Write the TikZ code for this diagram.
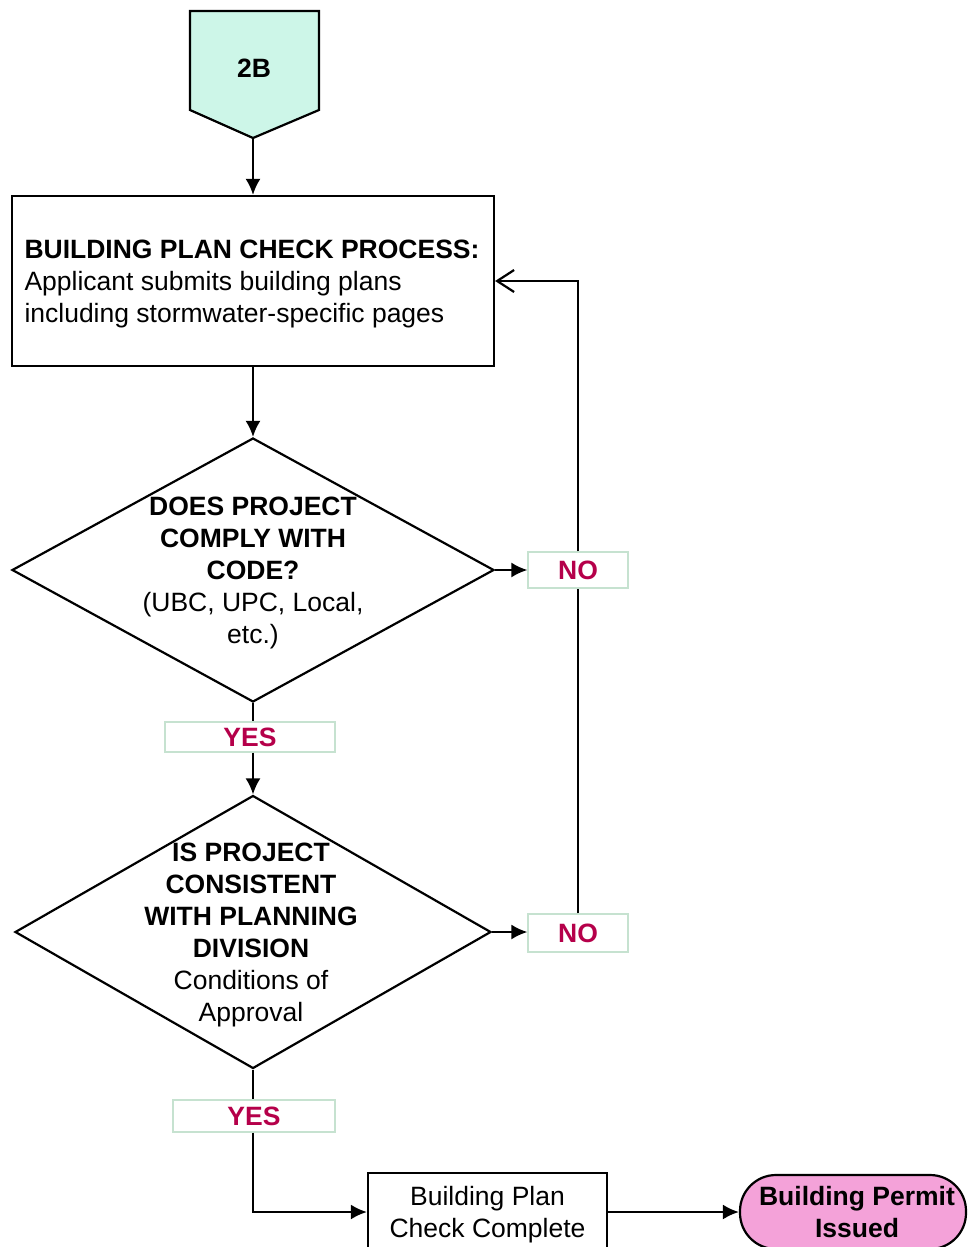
\documentclass[tikz,border=0pt]{standalone}
\usepackage{fontspec}
\setmainfont{Liberation Sans}
\usetikzlibrary{arrows.meta,shapes.geometric}
\definecolor{tealfill}{HTML}{CDF6E8}
\definecolor{pinkfill}{HTML}{F4A2D9}
\definecolor{answer}{HTML}{B5004A}
\definecolor{tagline}{HTML}{C6E2D0}
\begin{document}
\begin{tikzpicture}[x=1pt,y=-1pt,
  every node/.style={font=\fontsize{26.5}{32}\selectfont, text=black},
  line/.style={line width=2.2pt, draw=black},
  arr/.style={line, -{Latex[length=16pt,width=15pt]}},
  openarr/.style={line, -{Straight Barb[length=17pt,width=22pt]}},
  box/.style={draw, line width=2.2pt, rectangle, inner sep=0pt},
  dia/.style={draw, line width=2.2pt, diamond, inner sep=0pt},
  txt/.style={inner sep=0pt, yshift=-3pt},
  tag/.style={draw=tagline, line width=1.2pt, fill=white, inner sep=0pt,
              text=answer, font=\fontsize{26.5}{32}\selectfont\bfseries},
]
\useasboundingbox (0,0) rectangle (969,1247);
\fill[white] (0,0) rectangle (969,1247);

% off-page connector
\filldraw[fill=tealfill, line width=2.2pt]
  (190,11) -- (319,11) -- (319,110) -- (253,138) -- (190,110) -- cycle;
\coordinate (ptip) at (253,138);
\node[font=\fontsize{26.5}{32}\selectfont\bfseries] (entry) at (254,68) {2B};

% process box
\node[box, minimum width=482pt, minimum height=170pt] (plan) at (253,281) {};
\node[txt, align=left] (plantxt) at (252,281)
  {\textbf{BUILDING PLAN CHECK PROCESS:}\\Applicant submits building plans\\including stormwater-specific pages};

% first decision
\node[dia, minimum width=482pt, minimum height=264pt] (code) at (253,570) {};
\node[txt, align=center] (codetxt) at (253,570)
  {\textbf{DOES PROJECT}\\\textbf{COMPLY WITH}\\\textbf{CODE?}\\(UBC, UPC, Local,\\etc.)};

% second decision
\node[dia, minimum width=476pt, minimum height=273pt] (approve) at (253,932) {};
\node[txt, align=center] (approvetxt) at (251,932)
  {\textbf{IS PROJECT}\\\textbf{CONSISTENT}\\\textbf{WITH PLANNING}\\\textbf{DIVISION}\\Conditions of\\Approval};

% answer tags
\node[tag, minimum width=100pt, minimum height=36pt] (no1) at (578,570) {NO};
\node[tag, minimum width=100pt, minimum height=38pt] (no2) at (578,933) {NO};
\node[tag, minimum width=170pt, minimum height=30pt] (yes1) at (250,737) {YES};
\node[tag, minimum width=162pt, minimum height=32pt] (yes2) at (254,1116) {YES};

% completion and permit
\node[box, minimum width=239pt, minimum height=78pt] (done) at (487.5,1212) {};
\node[txt, align=center] (donetxt) at (487.5,1212) {Building Plan\\Check Complete};
\node[draw, line width=2.2pt, fill=pinkfill, rounded corners=36pt, inner sep=0pt,
      minimum width=226pt, minimum height=74pt] (permit) at (853,1212) {};
\node[inner sep=0pt, align=center, font=\fontsize{26.5}{32}\selectfont\bfseries] (permittxt)
  at (857,1212) {Building Permit\\Issued};

% connectors
\draw[arr] (ptip) -- (ptip |- plan.north);
\draw[arr] (plan.south) -- (code.north);
\draw[arr] (code.east) -- (no1.west);
\draw[line] (no2.north) -- (no1.south);
\draw[openarr] (no1.north) |- (plan.east);
\draw[line] (code.south) -- (code.south |- yes1.north);
\draw[arr] (code.south |- yes1.south) -- (approve.north);
\draw[arr] (approve.east) -- (approve.east -| no2.west);
\draw[line] (approve.south) -- (approve.south |- yes2.north);
\draw[arr] (approve.south |- yes2.south) |- (done.west);
\draw[arr] (done.east) -- (permit.west);
\end{tikzpicture}
\end{document}
